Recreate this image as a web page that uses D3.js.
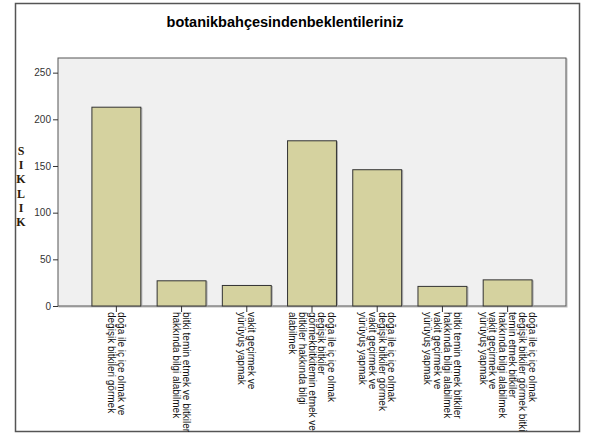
<!DOCTYPE html>
<html>
<head>
<meta charset="utf-8">
<script src="https://cdnjs.cloudflare.com/ajax/libs/d3/7.8.5/d3.min.js"></script>
<style>
  body { margin: 0; background: #fff; }
  text { font-family: "Liberation Sans", Arial, sans-serif; }
  text.ylab { font-family: "Liberation Serif", "Times New Roman", serif; }
</style>
</head>
<body>
<div id="chart"></div>
<script>
// bar chart: botanik bahçesinden beklentiler (frekans)

// data
var categories = [
    ["doğa ile iç içe olmak ve", "değişik bitkileri görmek"],
    ["bitki temin etmek ve bitkiler", "hakkında bilgi alabilmek"],
    ["vakit geçirmek ve", "yürüyüş yapmak"],
    ["doğa ile iç içe olmak", "değişik bitkiler", "görmekbitkitemin etmek ve", "bitkiler hakkında bilgi", "alabilmek"],
    ["doğa ile iç içe olmak", "değişik bitkiler görmek", "vakit geçirmek ve", "yürüyüş yapmak"],
    ["bitki temin etmek bitkiler", "hakkında bilgi alabilmek", "vakit geçirmek ve", "yürüyüş yapmak"],
    ["doğa ile iç içe olmak", "değişik bitkiler görmek bitki", "temin etmek bitkiler", "hakkında bilgi alabilmek", "vakit geçirmek ve", "yürüyüş yapmak"]
];
var counts = [213, 27, 22, 177, 146, 21, 28];
var yTicks = [0, 50, 100, 150, 200, 250];
var yLabel = ["S", "I", "K", "L", "I", "K"];
var title = "botanikbahçesindenbeklentileriniz";

// dimensions
var svgWidth = 590;
var svgHeight = 434;

var plot = {left: 58, right: 566, top: 58, bottom: 306};

var svg = d3.select("#chart")
    .append("svg")
    .attr("width", svgWidth)
    .attr("height", svgHeight);

// outer frame
svg.append("rect")
    .attr("x", 15.5)
    .attr("y", 3.5)
    .attr("width", 564)
    .attr("height", 428)
    .attr("fill", "#fff")
    .attr("stroke", "#555")
    .attr("stroke-width", 1.5);

// title
svg.append("text")
    .attr("x", 285)
    .attr("y", 27)
    .attr("text-anchor", "middle")
    .attr("font-size", "14.5px")
    .attr("font-weight", "bold")
    .attr("fill", "#000")
    .text(title);

// scales
var xScale = d3.scaleBand()
    .domain(d3.range(categories.length))
    .range([plot.left, plot.right])
    .paddingInner(0.25)
    .paddingOuter(0.52);

var yScale = d3.scaleLinear()
    .domain([0, 265.7])
    .range([plot.bottom, plot.top]);

// plot background
svg.append("rect")
    .attr("x", plot.left + 1)
    .attr("y", plot.top + 1)
    .attr("width", plot.right - plot.left)
    .attr("height", plot.bottom - plot.top)
    .attr("fill", "none")
    .attr("stroke", "#bbb")
    .attr("stroke-width", 1);

svg.append("rect")
    .attr("x", plot.left)
    .attr("y", plot.top)
    .attr("width", plot.right - plot.left)
    .attr("height", plot.bottom - plot.top)
    .attr("fill", "#f0f0f0")
    .attr("stroke", "#555")
    .attr("stroke-width", 1);

// bars, with a faint shadow like the original
svg.selectAll(".barShadow")
    .data(counts)
    .enter()
    .append("rect")
    .attr("class", "barShadow")
    .attr("x", (d, i) => xScale(i) + 1)
    .attr("y", d => yScale(d) + 1)
    .attr("width", xScale.bandwidth())
    .attr("height", d => plot.bottom - yScale(d) - 1)
    .attr("fill", "none")
    .attr("stroke", "#aaa");

svg.selectAll(".bar")
    .data(counts)
    .enter()
    .append("rect")
    .attr("class", "bar")
    .attr("x", (d, i) => xScale(i))
    .attr("y", d => yScale(d))
    .attr("width", xScale.bandwidth())
    .attr("height", d => plot.bottom - yScale(d))
    .attr("fill", "#d5d29f")
    .attr("stroke", "#333")
    .attr("stroke-width", 1);

// y axis
var leftAxis = d3.axisLeft(yScale)
    .tickValues(yTicks)
    .tickSize(5)
    .tickSizeOuter(0)
    .tickPadding(2);

var yAxis = svg.append("g")
    .attr("transform", `translate(${plot.left},0)`)
    .call(leftAxis);

yAxis.select(".domain").remove();
yAxis.selectAll("line").attr("stroke", "#333");
yAxis.selectAll("text")
    .style("font-family", "Liberation Sans, Arial, sans-serif")
    .attr("font-size", "10px")
    .attr("fill", "#333");

// x axis: ticks only, labels drawn rotated below
var bottomAxis = d3.axisBottom(xScale)
    .tickSize(6)
    .tickSizeOuter(0)
    .tickFormat("");

var xAxis = svg.append("g")
    .attr("transform", `translate(0,${plot.bottom})`)
    .call(bottomAxis);

xAxis.select(".domain").remove();
xAxis.selectAll("line").attr("stroke", "#333");

// rotated category labels, lines stacked right to left
var lineGap = 9.8;
var labels = svg.selectAll(".xlabel")
    .data(categories)
    .enter()
    .append("text")
    .attr("class", "xlabel")
    .attr("font-size", "10px")
    .attr("fill", "#111")
    .attr("transform", function(d, i) {
        var cx = xScale(i) + xScale.bandwidth() / 2;
        var shift = (d.length - 1) * lineGap / 2;
        return `translate(${cx + shift - 3.5},${plot.bottom + 6}) rotate(90)`;
    });

labels.selectAll("tspan")
    .data(d => d)
    .enter()
    .append("tspan")
    .attr("x", 0)
    .attr("dy", (d, i) => i === 0 ? 0 : lineGap)
    .text(d => d);

// vertical axis title, one letter per row
svg.selectAll(".ylab")
    .data(yLabel)
    .enter()
    .append("text")
    .attr("class", "ylab")
    .attr("x", 21)
    .attr("y", (d, i) => 155 + i * 14.2)
    .attr("text-anchor", "middle")
    .attr("font-weight", "bold")
    .attr("font-size", "12px")
    .attr("fill", "#2a1a0a")
    .text(d => d);
</script>
</body>
</html>
